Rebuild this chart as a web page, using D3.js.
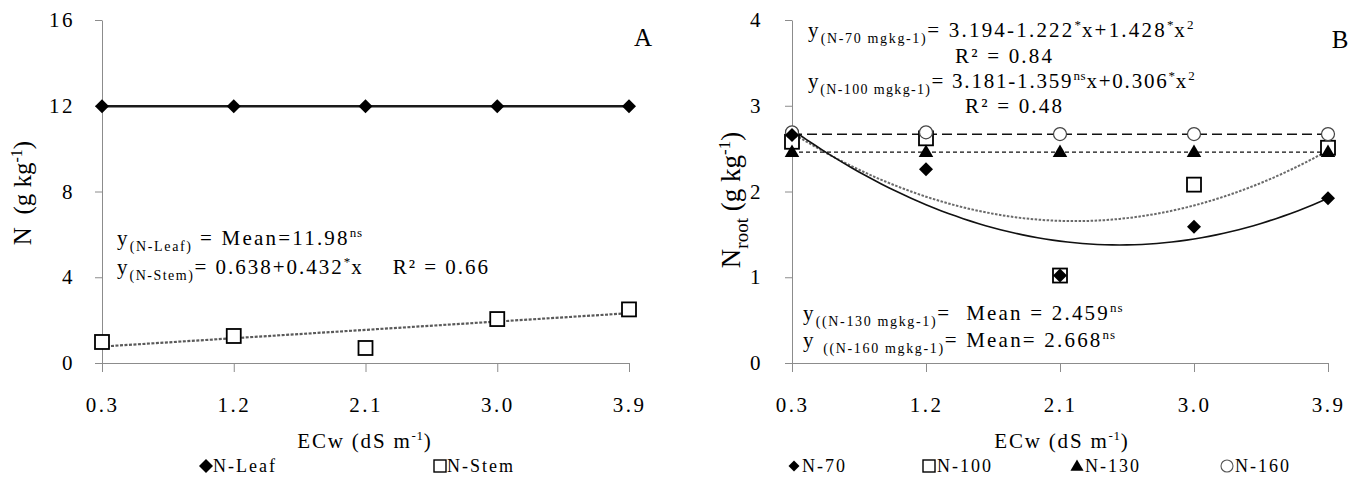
<!DOCTYPE html>
<html>
<head>
<meta charset="utf-8">
<script src="https://cdn.jsdelivr.net/npm/d3@7"></script>
<style>
  body { margin: 0; background: #fff; }
  svg text { font-family: "Liberation Serif", "Times New Roman", serif; fill: #000; white-space: pre; }
</style>
</head>
<body>
<script>
// ---- data ----
const ecw = [0.3, 1.2, 2.1, 3.0, 3.9]

// panel A (g kg-1)
const nLeaf = [11.98, 11.98, 11.98, 11.98, 11.98]
const nStem = [0.98, 1.26, 0.70, 2.05, 2.50]
const stemFit = [0.638, 0.432]          // intercept, slope (from the equation)
const yTicksA = [0, 4, 8, 12, 16]

// panel B (g kg-1)
const n70 = [2.66, 2.26, 1.02, 1.59, 1.92]
const n100 = [2.58, 2.62, 1.02, 2.08, 2.51]
const n130 = [2.45, 2.45, 2.45, 2.45, 2.45]
const n160 = [2.69, 2.69, 2.67, 2.67, 2.67]
const mean130 = 2.459
const mean160 = 2.668
const fit70 = [3.114, -1.39, 0.278]     // c, b, a as drawn (quadratic in ECw)
const fit100 = [3.034, -1.254, 0.285]
const yTicksB = [0, 1, 2, 3, 4]

const width = 1353
const height = 477

const svg = d3.select("body").append("svg")
  .attr("width", width)
  .attr("height", height)

// text with sub / superscript pieces
function rich(sel, x, y, parts, size, ls = 2.2, subSize = 14) {
  const t = sel.append("text").attr("x", x).attr("y", y).style("font-size", size + "px")
  let off = 0
  parts.forEach(([s, k]) => {
    const target = k === "sub" ? size * 0.28 : k === "sup" ? -size * 0.38 : 0
    t.append("tspan")
      .attr("dy", target - off)
      .style("font-size", k === "sub" ? subSize + "px" : k === "sup" ? Math.round(size * 0.62) + "px" : null)
      .style("letter-spacing", (k === "sub" ? ls * 0.75 : k === "sup" ? ls * 0.4 : ls) + "px")
      .text(s)
    off = target
  })
  return t
}

function marker(sel, type, x, y) {
  if (type === "diamond") {
    sel.append("path").attr("d", d3.symbol(d3.symbolSquare, 98)())
      .attr("transform", `translate(${x},${y}) rotate(45)`).attr("fill", "#000")
  } else if (type === "square") {
    sel.append("rect").attr("x", x - 7).attr("y", y - 7).attr("width", 14).attr("height", 14)
      .attr("fill", "#fff").attr("stroke", "#000").attr("stroke-width", 1.8)
  } else if (type === "triangle") {
    sel.append("path").attr("d", d3.symbol(d3.symbolTriangle, 92)())
      .attr("transform", `translate(${x},${y})`).attr("fill", "#000")
  } else if (type === "circle") {
    sel.append("circle").attr("cx", x).attr("cy", y).attr("r", 6.5)
      .attr("fill", "#fff").attr("stroke", "#444").attr("stroke-width", 1.2)
  }
}

function axes(g, x, y, yTicks, ypad) {
  const ya = g.append("g").attr("transform", `translate(${x.range()[0]},0)`)
    .call(d3.axisLeft(y).tickValues(yTicks).tickSize(7).tickPadding(ypad).tickSizeOuter(0)
      .tickFormat(d3.format("d")))
  const xa = g.append("g").attr("transform", `translate(0,${y.range()[0]})`)
    .call(d3.axisBottom(x).tickValues(ecw).tickSize(9).tickPadding(25).tickSizeOuter(0)
      .tickFormat(d3.format(".1f")))
  ;[ya, xa].forEach(a => {
    a.attr("font-family", null).attr("font-size", null)
    a.select(".domain").attr("stroke", "#8c8c8c")
    a.selectAll(".tick line").attr("stroke", "#8c8c8c")
    a.selectAll("text").style("font-size", "21px").style("letter-spacing", "2.5px")
  })
}

/*
------------------------------
panel A
------------------------------
*/
const xA = d3.scaleLinear([0.3, 3.9], [102, 629])
const yA = d3.scaleLinear([0, 16], [363, 20])
const gA = svg.append("g")
axes(gA, xA, yA, yTicksA, 20)

gA.append("path")
  .attr("d", d3.line()(ecw.map((e, i) => [xA(e), yA(nLeaf[i])])))
  .attr("fill", "none").attr("stroke", "#1a1a1a").attr("stroke-width", 2.4)

gA.append("path")
  .attr("d", d3.line()([0.3, 3.9].map(e => [xA(e), yA(stemFit[0] + stemFit[1] * e)])))
  .attr("fill", "none").attr("stroke", "#5a5a5a").attr("stroke-width", 2.2).attr("stroke-dasharray", "3,1.5")

ecw.forEach((e, i) => marker(gA, "diamond", xA(e), yA(nLeaf[i])))
ecw.forEach((e, i) => marker(gA, "square", xA(e), yA(nStem[i])))

rich(gA, 117, 245, [["y", ""], ["(N-Leaf)", "sub"], [" = Mean=11.98", ""], ["ns", "sup"]], 21)
rich(gA, 117, 274, [["y", ""], ["(N-Stem)", "sub"], ["= 0.638+0.432", ""], ["*", "sup"], ["x    R² = 0.66", ""]], 21, 2.0)

gA.append("text").attr("x", 643).attr("y", 46).attr("text-anchor", "middle").style("font-size", "25px").text("A")

rich(gA, 0, 0, [["N  (g kg", ""], ["-1", "sup"], [")", ""]], 25, 0)
  .attr("text-anchor", "middle").attr("transform", "translate(31,193) rotate(-90)")

rich(gA, 365, 448, [["ECw (dS m", ""], ["-1", "sup"], [")", ""]], 21, 1.8).attr("text-anchor", "middle")

marker(gA, "diamond", 206, 466)
gA.append("text").attr("x", 213).attr("y", 472).style("font-size", "18px").style("letter-spacing", "2px").text("N-Leaf")
gA.append("rect").attr("x", 434).attr("y", 460).attr("width", 12).attr("height", 12)
  .attr("fill", "#fff").attr("stroke", "#000").attr("stroke-width", 1.4)
gA.append("text").attr("x", 447).attr("y", 472).style("font-size", "18px").style("letter-spacing", "2px").text("N-Stem")

/*
------------------------------
panel B
------------------------------
*/
const xB = d3.scaleLinear([0.3, 3.9], [792, 1328])
const yB = d3.scaleLinear([0, 4], [363, 20])
const gB = svg.append("g")
axes(gB, xB, yB, yTicksB, 22)

const curveX = d3.range(0.3, 3.9001, 0.05)
const quad = c => curveX.map(e => [xB(e), yB(c[0] + c[1] * e + c[2] * e * e)])

gB.append("path").attr("d", d3.line()(quad(fit100)))
  .attr("fill", "none").attr("stroke", "#6a6a6a").attr("stroke-width", 2).attr("stroke-dasharray", "2.5,1.5")
gB.append("path").attr("d", d3.line()(quad(fit70)))
  .attr("fill", "none").attr("stroke", "#111").attr("stroke-width", 1.6)
gB.append("path").attr("d", d3.line()([0.3, 3.9].map(e => [xB(e), yB(mean160)])))
  .attr("fill", "none").attr("stroke", "#111").attr("stroke-width", 1.4).attr("stroke-dasharray", "10,5")
gB.append("path").attr("d", d3.line()([0.3, 3.9].map(e => [xB(e), yB(mean130)])))
  .attr("fill", "none").attr("stroke", "#111").attr("stroke-width", 1.4).attr("stroke-dasharray", "4,3")

ecw.forEach((e, i) => marker(gB, "square", xB(e), yB(n100[i])))
ecw.forEach((e, i) => marker(gB, "circle", xB(e), yB(n160[i])))
ecw.forEach((e, i) => marker(gB, "triangle", xB(e), yB(n130[i])))
ecw.forEach((e, i) => marker(gB, "diamond", xB(e), yB(n70[i])))

rich(gB, 808, 37, [["y", ""], ["(N-70 mgkg-1)", "sub"], ["= 3.194-1.222", ""], ["*", "sup"], ["x+1.428", ""], ["*", "sup"], ["x", ""], ["2", "sup"]], 21)
gB.append("text").attr("x", 955).attr("y", 63).style("font-size", "21px").style("letter-spacing", "2.2px").text("R² = 0.84")
rich(gB, 808, 88, [["y", ""], ["(N-100 mgkg-1)", "sub"], ["= 3.181-1.359", ""], ["ns", "sup"], ["x+0.306", ""], ["*", "sup"], ["x", ""], ["2", "sup"]], 21, 1.8)
gB.append("text").attr("x", 965).attr("y", 113).style("font-size", "21px").style("letter-spacing", "2.2px").text("R² = 0.48")
rich(gB, 803, 320, [["y", ""], ["((N-130 mgkg-1)", "sub"], ["=  Mean = 2.459", ""], ["ns", "sup"]], 21)
rich(gB, 803, 347, [["y ", ""], ["((N-160 mgkg-1)", "sub"], ["= Mean= 2.668", ""], ["ns", "sup"]], 21)

gB.append("text").attr("x", 1340).attr("y", 48).attr("text-anchor", "middle").style("font-size", "25px").text("B")

rich(gB, 0, 0, [["N", ""], ["root", "sub"], [" (g kg", ""], ["-1", "sup"], [")", ""]], 27, 0, 19)
  .attr("text-anchor", "middle").attr("transform", "translate(740,200) rotate(-90)")

rich(gB, 1062, 448, [["ECw (dS m", ""], ["-1", "sup"], [")", ""]], 21, 1.8).attr("text-anchor", "middle")

const legB = [["diamond", "N-70", 794], ["square", "N-100", 929], ["triangle", "N-130", 1077], ["circle", "N-160", 1227]]
legB.forEach(([type, label, lx]) => {
  if (type === "diamond") gB.append("path").attr("d", d3.symbol(d3.symbolSquare, 60)())
    .attr("transform", `translate(${lx},466) rotate(45)`).attr("fill", "#000")
  else if (type === "square") gB.append("rect").attr("x", lx - 6).attr("y", 460).attr("width", 12).attr("height", 12)
    .attr("fill", "#fff").attr("stroke", "#000").attr("stroke-width", 1.4)
  else if (type === "triangle") gB.append("path").attr("d", d3.symbol(d3.symbolTriangle, 75)())
    .attr("transform", `translate(${lx},467)`).attr("fill", "#000")
  else gB.append("circle").attr("cx", lx).attr("cy", 466).attr("r", 6)
    .attr("fill", "#fff").attr("stroke", "#555").attr("stroke-width", 1.1)
  gB.append("text").attr("x", lx + 8).attr("y", 472).style("font-size", "18px").style("letter-spacing", "2px").text(label)
})
</script>
</body>
</html>
